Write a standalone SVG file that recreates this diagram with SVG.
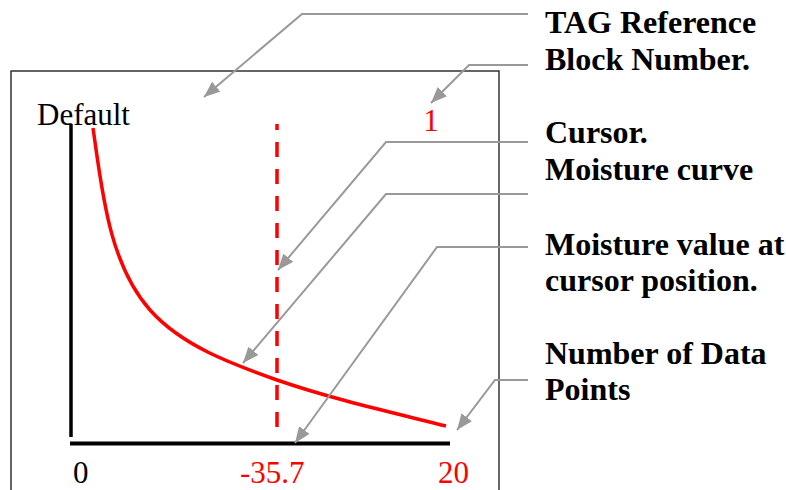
<svg xmlns="http://www.w3.org/2000/svg" width="786" height="490" viewBox="0 0 786 490">
  <style>
    .lbl { font-family: "Liberation Serif", "Times New Roman", serif; font-size: 32px; font-weight: bold; fill: #000; }
    .txt { font-family: "Liberation Serif", "Times New Roman", serif; font-size: 31px; fill: #000; }
    .red { fill: #ff0000; }
    .leader { fill: none; stroke: #999999; stroke-width: 2; marker-end: url(#arrow); }
  </style>
  <defs>
    <marker id="arrow" markerUnits="userSpaceOnUse" markerWidth="17" markerHeight="13" refX="16" refY="6.5" orient="auto">
      <path d="M0,0 L16,6.5 L0,13 z" fill="#999999"/>
    </marker>
  </defs>
  <rect width="786" height="490" fill="#ffffff"/>

  <g id="display">
    <rect x="11" y="71" width="488" height="440" fill="none" stroke="#333333" stroke-width="1.5"/>
    <text class="txt" x="37" y="125">Default</text>
    <text class="txt red" x="431" y="131" text-anchor="middle">1</text>
  </g>

  <g id="axes">
    <line x1="71" y1="124" x2="71" y2="437" stroke="#000" stroke-width="3.5"/>
    <line x1="70" y1="443.5" x2="450" y2="443.5" stroke="#000" stroke-width="4"/>
    <text class="txt" x="73" y="483">0</text>
    <text class="txt red" x="240" y="483">-35.7</text>
    <text class="txt red" x="438" y="483">20</text>
  </g>

  <g id="curve">
    <path d="M93,128 C102,190 108.5,263 150,310 C182,346 232,364 277,380 C332,399 390,412 446,426" fill="none" stroke="#ff0000" stroke-width="3.5"/>
  </g>

  <g id="cursor">
    <line x1="277" y1="124" x2="277" y2="437" stroke="#ff0000" stroke-width="3.5" stroke-dasharray="15 12" stroke-dashoffset="9"/>
  </g>

  <g id="label-tag">
    <text class="lbl" x="545" y="33">TAG Reference</text>
  </g>
  <g id="label-block">
    <text class="lbl" x="545" y="70">Block Number.</text>
  </g>
  <g id="label-cursor">
    <text class="lbl" x="545" y="143">Cursor.</text>
  </g>
  <g id="label-moisture-curve">
    <text class="lbl" x="545" y="180">Moisture curve</text>
  </g>
  <g id="label-moisture-value">
    <text class="lbl" x="545" y="255">Moisture value at</text>
    <text class="lbl" x="545" y="291">cursor position.</text>
  </g>
  <g id="label-data-points">
    <text class="lbl" x="545" y="364">Number of Data</text>
    <text class="lbl" x="545" y="400">Points</text>
  </g>

  <g id="connectors">
    <polyline class="leader" points="528,14 302,14 204,97"/>
    <polyline class="leader" points="528,65 469,65 431,103"/>
    <polyline class="leader" points="528,142 386,142 278,270"/>
    <polyline class="leader" points="528,194 386,194 243,363"/>
    <polyline class="leader" points="528,247 437,247 295,443"/>
    <polyline class="leader" points="528,380 495,380 457,430"/>
  </g>
</svg>
